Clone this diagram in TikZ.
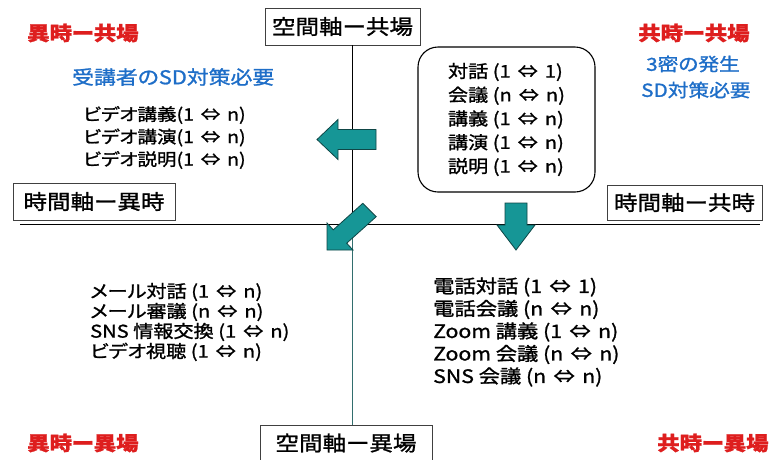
\documentclass[tikz,border=0pt]{standalone}
\usepackage{fontspec}
\setmainfont{Noto Sans CJK JP}[FakeStretch=1.15, FakeBold=1.2, RawFeature=+palt]
\newcommand{\LRa}{\hspace{0.4em}⇔\hspace{0.4em}}
\definecolor{tred}{RGB}{222,30,30}
\definecolor{tblue}{RGB}{30,110,200}
\definecolor{tealfill}{RGB}{22,150,150}
\definecolor{tealline}{RGB}{15,70,70}
\definecolor{axisteal}{RGB}{50,110,110}
\begin{document}
\begin{tikzpicture}[x=1pt,y=-1pt,
  axisbox/.style={draw=black!75, line width=0.8pt, fill=white, inner sep=0pt, font=\fontsize{20.5}{24}\selectfont},
  title/.style={text=tred, font=\fontsize{19.5}{22}\selectfont\bfseries, anchor=west, inner sep=0pt},
  note/.style={text=tblue, anchor=west, inner sep=0pt},
  list/.style={align=left, anchor=west, inner sep=0pt},
  blockarrow/.style={fill=tealfill, draw=tealline, line width=0.8pt, line join=miter},
]
\useasboundingbox (0,0) rectangle (769,459);
\fill[white] (0,0) rectangle (769,459);

% axis label boxes
\node[axisbox, minimum width=155pt, minimum height=37pt] (top) at (342.5,26.5) {空間軸ー共場};
\node[axisbox, minimum width=172pt, minimum height=36pt] (bot) at (346,443) {空間軸ー異場};
\node[axisbox, minimum width=162pt, minimum height=37pt] (left) at (94,201.5) {時間軸ー異時};
\node[axisbox, minimum width=155pt, minimum height=35pt] (right) at (684.5,202.5) {時間軸ー共時};

% axes
\coordinate (origin) at (352,224);
\coordinate (hl) at (20,224);
\coordinate (hr) at (760,224);
\draw[line width=0.9pt] (hl) -- (hr);
\draw[line width=0.9pt] (top.south -| origin) -- (origin);
\draw[line width=0.9pt, axisteal] (origin) -- (bot.north -| origin);

% quadrant titles
\node[title] (t1) at (27,33) {異時ー共場};
\node[title] (t2) at (638,33) {共時ー共場};
\node[title] (t3) at (27,443) {異時ー異場};
\node[title] (t4) at (657,443) {共時ー異場};

% notes
\node[note, font=\fontsize{19}{22}\selectfont] (n1) at (72,77) {受講者のSD対策必要};
\node[note, font=\fontsize{18}{22}\selectfont] (n2) at (646,64) {3密の発生};
\node[note, font=\fontsize{18}{22}\selectfont] (n3) at (641,90) {SD対策必要};

% lists
\node[list, font=\fontsize{17}{22.5}\selectfont] (video) at (83,137.5)
  {ビデオ講義(1\LRa n)\\ビデオ講演(1\LRa n)\\ビデオ説明(1\LRa n)};
\node[draw, line width=1.1pt, rounded corners=20pt, align=left, inner sep=0pt,
  minimum width=177pt, minimum height=145pt, font=\fontsize{17.5}{23.75}\selectfont] (sync) at (506.5,119.5)
  {対話 (1\LRa 1)\\会議 (n\LRa n)\\講義 (1\LRa n)\\講演 (1\LRa n)\\説明 (1\LRa n)};
\node[list, font=\fontsize{17.5}{20}\selectfont] (async) at (90,322)
  {メール対話 (1\LRa n)\\メール審議 (n\LRa n)\\SNS 情報交換 (1\LRa n)\\ビデオ視聴 (1\LRa n)};
\node[list, font=\fontsize{18.5}{22.5}\selectfont] (remote) at (433,332)
  {電話対話 (1\LRa 1)\\電話会議 (n\LRa n)\\Zoom 講義 (1\LRa n)\\Zoom 会議 (n\LRa n)\\SNS 会議 (n\LRa n)};

% block arrows
\draw[blockarrow] (376,129.5) -- (338,129.5) -- (338,119.5) -- (317,139.5) -- (338,159.5) -- (338,149.5) -- (376,149.5) -- cycle;
\draw[blockarrow] (505,203) -- (527,203) -- (527,225) -- (535,225) -- (516,250) -- (497,225) -- (505,225) -- cycle;
\draw[blockarrow] (362.8,203.3) -- (333.3,229.8) -- (327,223) -- (327,250) -- (353,250) -- (346.7,243.2) -- (376.2,216.7) -- cycle;
\end{tikzpicture}
\end{document}
